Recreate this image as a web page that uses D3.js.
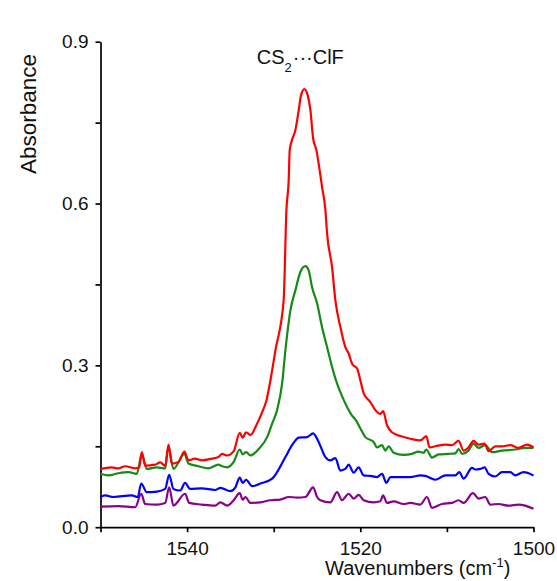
<!DOCTYPE html>
<html>

<head>
    <meta charset="utf-8">
    <title></title>
    <script src="https://d3js.org/d3.v7.min.js"></script>
    <style>
        html,
        body {
            margin: 0;
            padding: 0;
            background: #fff;
        }

        svg text {
            font-family: 'Liberation Sans', Arial, sans-serif;
            fill: #111;
        }
    </style>
</head>

<body>

    <div id="chart"></div>

    <script>
        // Spectra: [wavenumber (cm-1), absorbance]
        const redSpec = [[1550.00, 0.108], [1548.73, 0.111], [1547.92, 0.109], [1547.15, 0.113], [1545.99, 0.109], [1545.53, 0.111], [1545.23, 0.139], [1544.84, 0.114], [1543.69, 0.116], [1543.11, 0.120], [1542.53, 0.114], [1542.15, 0.153], [1541.77, 0.118], [1541.00, 0.121], [1540.31, 0.140], [1539.84, 0.124], [1539.07, 0.127], [1538.31, 0.124], [1537.16, 0.127], [1536.38, 0.130], [1535.96, 0.136], [1535.38, 0.133], [1534.62, 0.141], [1533.92, 0.175], [1533.58, 0.166], [1533.19, 0.176], [1532.69, 0.171], [1531.92, 0.192], [1531.34, 0.213], [1530.84, 0.235], [1530.38, 0.272], [1529.80, 0.328], [1528.85, 0.421], [1528.53, 0.588], [1528.27, 0.643], [1528.15, 0.699], [1527.88, 0.718], [1527.50, 0.736], [1527.11, 0.773], [1526.84, 0.801], [1526.46, 0.812], [1526.08, 0.801], [1525.76, 0.773], [1525.45, 0.721], [1525.07, 0.699], [1524.81, 0.674], [1524.42, 0.631], [1524.03, 0.588], [1523.84, 0.545], [1523.26, 0.482], [1522.88, 0.421], [1522.30, 0.371], [1521.73, 0.334], [1521.34, 0.322], [1520.95, 0.303], [1520.37, 0.294], [1519.99, 0.272], [1519.61, 0.248], [1518.84, 0.232], [1518.26, 0.217], [1517.69, 0.210], [1517.37, 0.215], [1516.91, 0.189], [1516.34, 0.176], [1515.38, 0.169], [1514.22, 0.164], [1513.07, 0.161], [1512.38, 0.169], [1512.00, 0.148], [1511.34, 0.150], [1510.18, 0.153], [1509.41, 0.152], [1508.65, 0.160], [1508.07, 0.142], [1507.50, 0.148], [1506.92, 0.160], [1506.34, 0.153], [1505.65, 0.155], [1505.19, 0.141], [1504.41, 0.150], [1503.64, 0.150], [1502.68, 0.152], [1501.73, 0.147], [1500.76, 0.153], [1500.00, 0.148]];

        const greenSpec = [[1550.00, 0.099], [1549.08, 0.096], [1547.92, 0.100], [1546.77, 0.102], [1545.81, 0.099], [1545.23, 0.136], [1544.66, 0.108], [1543.50, 0.111], [1542.53, 0.109], [1542.15, 0.150], [1541.58, 0.108], [1540.31, 0.136], [1539.84, 0.118], [1538.69, 0.113], [1537.54, 0.109], [1536.38, 0.116], [1535.96, 0.113], [1535.38, 0.111], [1534.62, 0.121], [1533.92, 0.144], [1533.58, 0.135], [1533.19, 0.139], [1532.69, 0.133], [1531.73, 0.145], [1530.76, 0.167], [1530.18, 0.192], [1529.61, 0.217], [1529.03, 0.266], [1528.65, 0.328], [1528.34, 0.371], [1528.07, 0.402], [1527.50, 0.439], [1526.92, 0.473], [1526.34, 0.484], [1525.96, 0.476], [1525.57, 0.445], [1524.99, 0.415], [1524.42, 0.371], [1523.84, 0.334], [1523.26, 0.297], [1522.68, 0.266], [1522.11, 0.243], [1521.53, 0.223], [1520.95, 0.207], [1520.57, 0.200], [1519.99, 0.183], [1519.42, 0.167], [1518.46, 0.158], [1518.07, 0.148], [1517.49, 0.152], [1517.11, 0.142], [1516.73, 0.150], [1516.15, 0.138], [1515.00, 0.134], [1514.03, 0.136], [1513.27, 0.140], [1512.69, 0.138], [1512.38, 0.144], [1511.72, 0.129], [1510.96, 0.135], [1509.80, 0.136], [1509.03, 0.137], [1508.65, 0.145], [1508.26, 0.136], [1507.50, 0.142], [1506.92, 0.155], [1506.34, 0.147], [1505.57, 0.152], [1504.80, 0.139], [1503.64, 0.142], [1502.11, 0.144], [1500.95, 0.147], [1500.00, 0.147]];

        const blueSpec = [[1550.00, 0.056], [1549.46, 0.059], [1548.50, 0.056], [1546.39, 0.059], [1545.70, 0.056], [1545.30, 0.081], [1544.66, 0.065], [1543.50, 0.066], [1542.53, 0.071], [1542.07, 0.097], [1541.58, 0.071], [1540.80, 0.068], [1540.23, 0.082], [1539.65, 0.071], [1538.31, 0.072], [1536.76, 0.069], [1536.15, 0.073], [1535.00, 0.067], [1534.42, 0.074], [1533.92, 0.092], [1533.58, 0.082], [1533.19, 0.088], [1532.49, 0.076], [1531.53, 0.081], [1530.18, 0.090], [1529.61, 0.102], [1528.65, 0.130], [1527.88, 0.152], [1527.11, 0.166], [1526.15, 0.167], [1525.45, 0.174], [1524.81, 0.158], [1524.23, 0.136], [1524.03, 0.130], [1523.46, 0.124], [1522.88, 0.128], [1522.30, 0.105], [1521.73, 0.108], [1521.34, 0.116], [1520.77, 0.101], [1520.19, 0.111], [1519.61, 0.096], [1518.84, 0.095], [1518.07, 0.093], [1517.49, 0.099], [1516.99, 0.082], [1516.53, 0.093], [1515.38, 0.093], [1514.22, 0.093], [1513.07, 0.096], [1512.49, 0.095], [1511.34, 0.088], [1510.18, 0.096], [1509.03, 0.096], [1508.57, 0.102], [1508.07, 0.090], [1507.10, 0.110], [1506.72, 0.107], [1506.15, 0.108], [1505.65, 0.111], [1505.19, 0.099], [1504.41, 0.094], [1503.64, 0.102], [1502.68, 0.102], [1502.11, 0.096], [1501.15, 0.102], [1500.00, 0.096]];

        const purpleSpec = [[1550.00, 0.038], [1547.92, 0.039], [1545.99, 0.037], [1545.30, 0.062], [1544.84, 0.043], [1543.50, 0.042], [1542.53, 0.045], [1542.07, 0.074], [1541.58, 0.040], [1540.23, 0.062], [1539.76, 0.045], [1538.31, 0.042], [1536.76, 0.040], [1536.15, 0.046], [1535.38, 0.040], [1534.62, 0.050], [1533.92, 0.063], [1533.58, 0.051], [1533.27, 0.056], [1532.69, 0.045], [1531.53, 0.046], [1530.38, 0.050], [1529.23, 0.051], [1528.27, 0.056], [1527.30, 0.055], [1526.34, 0.056], [1525.45, 0.074], [1524.99, 0.056], [1524.61, 0.050], [1523.46, 0.046], [1522.68, 0.065], [1522.11, 0.050], [1521.34, 0.062], [1520.77, 0.053], [1520.19, 0.060], [1519.61, 0.050], [1518.46, 0.046], [1517.69, 0.048], [1517.37, 0.059], [1516.91, 0.045], [1516.15, 0.048], [1515.00, 0.043], [1514.22, 0.045], [1513.07, 0.042], [1512.30, 0.056], [1511.72, 0.036], [1510.57, 0.043], [1509.41, 0.045], [1508.65, 0.050], [1508.07, 0.045], [1506.99, 0.063], [1506.34, 0.053], [1505.57, 0.056], [1504.99, 0.042], [1504.03, 0.043], [1502.88, 0.040], [1501.73, 0.042], [1500.95, 0.040], [1500.00, 0.034]];

        // Axis ticks and labels
        const xTicks = [1550, 1540, 1530, 1520, 1510, 1500];
        const xTickLabels = ["", "1540", "", "1520", "", "1500"];
        const yTicks = [0, 0.15, 0.3, 0.45, 0.6, 0.75, 0.9];
        const yTickLabels = ["0.0", "", "0.3", "", "0.6", "", "0.9"];

        const series = [
            { data: purpleSpec, color: "#8b008b" },
            { data: blueSpec, color: "#0000ff" },
            { data: greenSpec, color: "#158a15" },
            { data: redSpec, color: "#ff0000" }
        ];

        var fullW = 557, fullH = 581;
        var margin = { top: 41.7, right: 23.5, bottom: 53.8, left: 100.5 },
            width = fullW - margin.left - margin.right,
            height = fullH - margin.top - margin.bottom;

        var svg = d3.select("#chart")
            .append("svg")
            .attr("width", fullW)
            .attr("height", fullH)
            .append("g")
            .attr("transform", `translate(${margin.left},${margin.top})`);

        // X axis: wavenumbers decrease to the right
        var x = d3.scaleLinear()
            .domain([1550, 1500])
            .range([0, width]);

        var y = d3.scaleLinear()
            .domain([0, 0.9])
            .range([height, 0]);

        var xAxis = svg.append("g")
            .attr("transform", `translate(0, ${height})`)
            .call(d3.axisBottom(x)
                .tickValues(xTicks)
                .tickFormat((d, i) => xTickLabels[i])
                .tickSize(5)
                .tickPadding(9)
                .tickSizeOuter(0));

        var yAxis = svg.append("g")
            .call(d3.axisLeft(y)
                .tickValues(yTicks)
                .tickFormat((d, i) => yTickLabels[i])
                .tickSize(5)
                .tickPadding(7)
                .tickSizeOuter(0));

        [xAxis, yAxis].forEach(g => {
            g.selectAll("path, line").attr("stroke", "#000").attr("stroke-width", 1.7);
            g.selectAll("text")
                .style("font-size", "19px")
                .style("font-family", "'Liberation Sans', Arial, sans-serif")
                .attr("fill", "#111");
        });

        // spectra lines
        var line = d3.line()
            .curve(d3.curveMonotoneX)
            .x(d => x(d[0]))
            .y(d => y(d[1]));

        series.forEach(s => {
            svg.append("path")
                .datum(s.data)
                .attr("fill", "none")
                .attr("stroke", s.color)
                .attr("stroke-width", 2.2)
                .attr("stroke-linejoin", "round")
                .attr("d", line);
        });

        // title
        var title = svg.append("text")
            .attr("x", 256.7 - margin.left)
            .attr("y", 64.3 - margin.top)
            .style("font-size", "20px");
        title.append("tspan").text("CS");
        title.append("tspan").attr("dy", 8).style("font-size", "13px").text("2");
        title.append("tspan").attr("dy", -8).attr("dx", 1).text("···ClF");

        // y label
        svg.append("text")
            .attr("transform", `translate(${36 - margin.left}, ${114 - margin.top}) rotate(-90)`)
            .attr("text-anchor", "middle")
            .style("font-size", "22.5px")
            .text("Absorbance");

        // x label
        var xl = svg.append("text")
            .attr("x", 325 - margin.left)
            .attr("y", 575 - margin.top)
            .style("font-size", "20px");
        xl.append("tspan").text("Wavenumbers (cm");
        xl.append("tspan").attr("dy", -8).style("font-size", "13px").text("-1");
        xl.append("tspan").attr("dy", 8).text(")");
    </script>
</body>

</html>
